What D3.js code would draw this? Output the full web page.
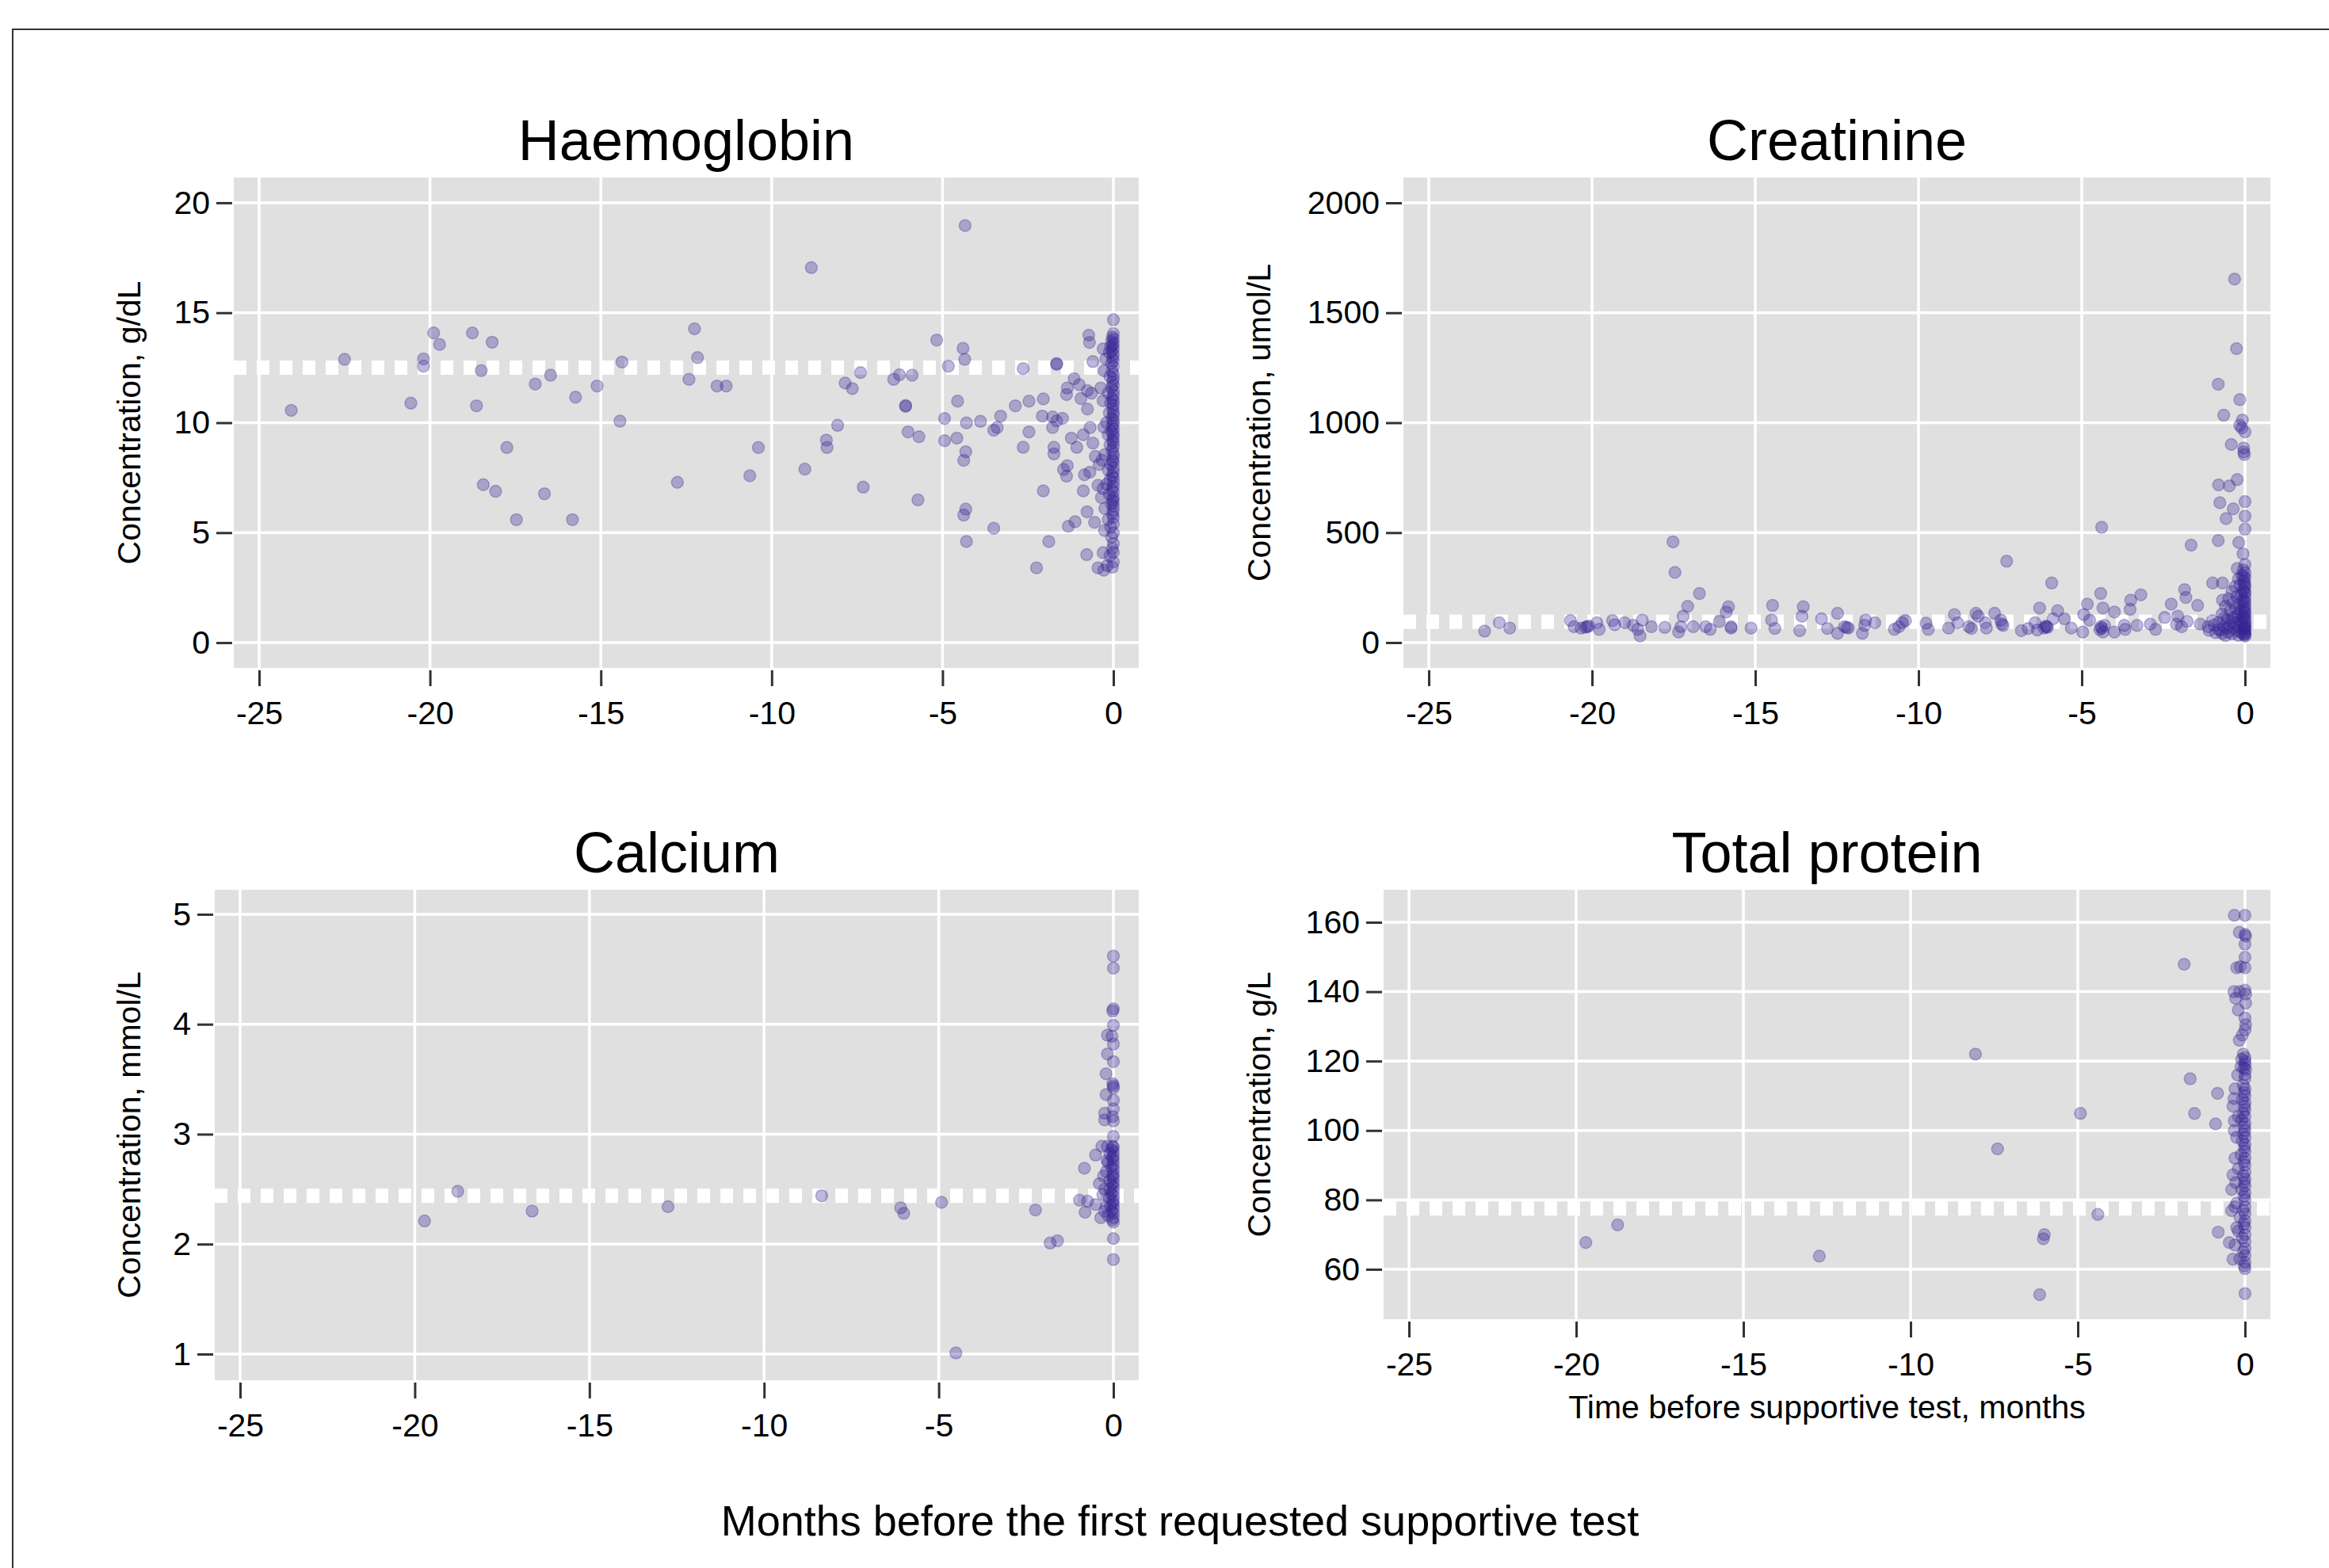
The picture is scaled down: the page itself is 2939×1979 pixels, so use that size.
<!DOCTYPE html>
<html><head><meta charset="utf-8">
<script src="https://cdn.jsdelivr.net/npm/d3@7"></script>
<style>
body{margin:0;background:#fff}
svg{display:block}
text{font-family:"Liberation Sans",Arial,sans-serif;fill:#000}
</style>
</head><body>
<svg id="c" width="2939" height="1979"></svg>
<script>
// ---------------- DATA (months before test, concentration) ----------------
const xTickValues = [-25, -20, -15, -10, -5, 0];
const hbTicks = [0, 5, 10, 15, 20];
const crTicks = [0, 500, 1000, 1500, 2000];
const caTicks = [1, 2, 3, 4, 5];
const tpTicks = [60, 80, 100, 120, 140, 160];

const panelTitles = ["Haemoglobin", "Creatinine", "Calcium", "Total protein"];
const yAxisTitles = ["Concentration, g/dL", "Concentration, umol/L", "Concentration, mmol/L", "Concentration, g/L"];
const refValues = [12.5, 95, 2.44, 77.5];
const xAxisTitle = "Time before supportive test, months";
const overallTitle = "Months before the first requested supportive test";

const haemoglobin = [
[-24.06,10.56],[-22.5,12.88],[-20.56,10.89],[-20.19,12.9],[-20.19,12.57],[-19.89,14.08],[-19.72,13.56],[-18.76,14.08],[-18.18,13.66],[-18.5,12.37],[-18.64,10.77],[-17.75,8.87],[-18.44,7.18],[-18.08,6.88],[-17.47,5.59],[-16.65,6.77],[-16.92,11.76],[-16.47,12.16],[-15.74,11.16],[-15.83,5.59],[-15.11,11.67],[-14.38,12.76],[-14.44,10.07],[-12.76,7.29],[-12.26,14.27],[-12.17,12.96],[-12.42,11.97],[-11.6,11.67],[-11.33,11.67],[-10.39,8.87],[-10.64,7.59],[-9.03,7.89],[-8.84,17.05],[-8.07,9.88],[-8.4,9.21],[-8.38,8.87],[-7.85,11.8],[-7.64,11.55],[-7.4,12.28],[-7.32,7.07],[-6.43,11.97],[-6.26,12.18],[-5.89,12.16],[-6.08,10.78],[-6.08,10.74],[-6.01,9.58],[-5.69,9.36],[-5.72,6.49],[-5.17,13.76],[-4.83,12.57],[-4.94,10.19],[-4.94,9.18],[-4.58,9.3],[-4.56,10.98],[-4.34,18.96],
[-4.4,13.38],[-4.35,12.88],[-4.3,9.99],[-4.32,8.68],[-4.38,8.29],[-4.32,6.07],[-4.38,5.8],[-4.3,4.6],
[-3.89,10.06],[-3.5,9.66],[-3.4,9.78],[-3.3,10.3],[-3.5,5.2],
[-2.87,10.77],[-2.64,12.46],[-2.64,8.88],[-2.47,10.98],[-2.47,9.58],[-2.25,3.4],[-2.08,10.3],[-2.05,11.08],[-2.05,6.9],
[-1.89,4.6],[-1.78,10.26],[-1.78,9.78],[-1.74,8.88],[-1.74,8.58],[-1.66,12.69],[-1.66,12.65],[-1.66,10.08],[-1.49,10.2],[-1.46,7.87],[-1.37,11.28],[-1.37,7.57],[-1.35,11.58],[-1.35,8.05],[-1.32,5.29],[-1.23,9.3],[-1.15,12.0],[-1.12,5.5],[-1.07,8.88],[-1.0,11.73],[-0.95,11.1],[-0.88,9.45],[-0.88,6.9],[-0.85,7.63],[-0.78,4.0],[-0.77,5.95],[-0.76,11.46],[-0.76,10.62],[-0.72,13.98],[-0.7,13.65],[-0.69,7.75],[-0.68,9.78],[-0.64,11.34],[-0.6,12.78],[-0.6,9.07],[-0.55,5.47],[-0.53,8.47],[-0.45,7.15],[-0.45,3.4],[-0.42,8.1],[-0.37,11.58],[-0.3,13.36],[-0.3,4.09],[-0.28,3.29],[-0.27,12.36],[-0.26,5.1],
[0,14.68],[0,14.05],[-0.03,13.9],[0,13.8],[-0.05,13.7],[0,13.6],[-0.02,13.5],[-0.08,13.45],[0,13.35],[-0.04,13.25],[-0.12,13.2],[0,13.1],[-0.02,12.95],[0,12.8],[-0.06,12.7],[0,12.55],[-0.03,12.35],[0,12.2],[-0.1,12.1],[0,12.0],[-0.02,11.85],[0,11.7],[-0.05,11.6],[0,11.45],[-0.15,11.35],[0,11.25],[-0.03,11.1],[0,11.0],[-0.08,10.9],[0,10.8],[-0.02,10.65],[0,10.5],[-0.12,10.45],[0,10.35],[-0.04,10.2],[0,10.1],[-0.2,10.0],[0,9.95],[-0.03,9.85],[0,9.7],[-0.06,9.6],[0,9.5],[-0.15,9.45],[0,9.35],[-0.02,9.2],[0,9.1],[-0.1,9.0],[0,8.9],[-0.04,8.75],[0,8.6],[-0.25,8.55],[0,8.45],[-0.02,8.3],[0,8.2],[-0.08,8.1],[0,7.95],[-0.15,7.85],[0,7.75],[-0.03,7.6],[0,7.5],[-0.1,7.4],[0,7.3],[-0.2,7.2],[0,7.1],[-0.04,6.95],[0,6.85],[-0.12,6.75],[0,6.6],[-0.02,6.5],[0,6.4],[-0.06,6.3],[0,6.2],[-0.25,6.1],[0,6.0],[-0.03,5.85],[0,5.7],[-0.15,5.6],[0,5.4],[-0.08,5.25],[0,4.99],[-0.05,4.8],[0,4.5],[-0.03,4.27],[0,4.1],[-0.1,3.95],[0,3.67],[-0.03,3.43],[-0.18,3.5],[-0.22,12.9],[-0.3,11.0],[-0.28,9.8],[-0.33,8.3],[-0.3,7.0],[-0.35,6.6]
];

const creatinine = [
[-23.29,52],[-22.84,90],[-22.52,66],[-20.66,100],[-20.55,72],[-20.34,66],[-20.2,69],[-20.15,72],[-20.1,75],[-19.85,90],[-19.78,60],[-19.37,100],[-19.3,81],[-19.0,90],[-18.74,78],[-18.6,60],[-18.53,30],[-18.46,102],[-18.18,72],[-17.77,69],[-17.52,458],[-17.46,319],[-17.35,48],[-17.28,72],[-17.21,120],[-17.07,165],[-16.9,72],[-16.71,223],[-16.52,72],[-16.38,60],[-16.1,96],[-15.89,139],[-15.82,163],[-15.74,72],[-15.74,66],[-15.13,66],[-14.47,169],[-14.5,102],[-14.4,64],[-13.64,54],[-13.57,120],[-13.53,163],[-12.97,108],[-12.79,64],[-12.48,133],[-12.48,42],[-12.27,72],[-12.2,69],[-12.15,66],[-11.72,42],[-11.65,78],[-11.62,102],[-11.34,90],[-10.74,60],[-10.6,72],[-10.5,90],[-10.4,100],[-9.77,88],[-9.7,60],[-9.08,66],[-8.9,127],[-8.8,90],[-8.46,72],[-8.38,64],[-8.24,133],[-8.17,120],[-7.96,90],[-7.92,66],[-7.67,133],[-7.48,102],[-7.45,85],[-7.41,78],[-7.3,370],[-6.85,54],[-6.64,64],[-6.43,90],[-6.36,57],[-6.29,157],[-6.15,66],[-6.1,75],[-6.08,72],[-6.05,69],[-5.92,271],[-5.88,108],[-5.74,145],[-5.53,108],[-5.32,66],[-4.97,48],[-4.94,127],[-4.83,175],[-4.76,102],[-4.45,60],[-4.42,223],[-4.39,524],[-4.35,157],[-4.42,72],[-4.38,66],[-4.35,48],[-4.3,78],[-4.0,139],[-4.0,48],
[-3.7,78],[-3.67,60],[-3.31,78],[-3.19,217],[-3.5,193],[-3.52,151],[-2.9,84],[-2.74,60],[-2.46,114],[-2.26,175],[-2.1,84],[-2.06,120],[-1.94,72],[-1.85,241],[-1.81,205],[-1.77,96],[-1.65,443],[-1.45,169],[-1.37,84],[-1.13,72],[-0.99,271],[-0.82,464],[-0.81,60],[-0.69,271],[-0.69,193],
[-0.32,1653],[-0.26,1337],[-0.82,1175],[-0.16,1105],[-0.65,1034],[-0.08,1012],[-0.16,988],[-0.1,976],[0,958],[-0.42,901],[-0.04,885],[-0.04,867],[-0.02,855],[-0.24,741],[-0.81,717],[-0.48,713],[-0.77,636],[0,641],[-0.36,608],[-0.58,564],[0,575],[0,516],[-0.19,455],[-0.06,404],[0,355],[-0.24,337],
[-0.05,330],[0,318],[-0.1,305],[0,295],[-0.2,290],[-0.03,280],[0,268],[-0.15,262],[-0.3,255],[0,250],[-0.05,238],[-0.4,232],[0,225],[-0.12,218],[-0.25,210],[0,205],[-0.5,200],[-0.08,195],[0,186],[-0.35,180],[-0.18,175],[0,168],[-0.6,165],[-0.04,160],[-0.28,155],[0,150],[-0.45,146],[-0.12,142],[0,135],[-0.7,130],[-0.22,128],[0,122],[-0.05,116],[-0.38,112],[0,108],[-0.55,104],[-0.15,100],[0,96],[-0.8,92],[-0.28,90],[0,86],[-0.1,82],[-0.45,80],[0,76],[-0.65,74],[-0.2,72],[0,68],[-0.35,66],[-0.05,62],[0,58],[-0.75,56],[-0.25,54],[0,50],[-0.5,48],[-0.12,45],[0,42],[-0.4,40],[-0.03,38],[0,35],[-0.2,33],[-0.6,32],[-0.9,45],[-1.0,100],[-1.1,55],[-0.95,80],[0,30],[-0.02,70],[-0.06,110],[-0.02,140],[-0.03,190],[-0.01,230],[-0.02,260],[-0.04,300],[-0.3,120],[-0.4,95],[-0.55,65],[-0.65,110],[-0.7,42]
];

const calcium = [
[-19.72,2.21],[-18.77,2.48],[-16.64,2.30],[-12.75,2.34],[-8.35,2.44],[-6.09,2.33],[-6.0,2.28],[-4.92,2.38],[-4.51,1.01],[-2.23,2.31],[-1.81,2.01],[-1.6,2.03],[-0.83,2.69],[-0.51,2.81],[-0.97,2.4],[-0.74,2.39],[-0.81,2.29],[-0.51,2.36],[-0.4,2.55],[-0.36,2.24],
[0,4.62],[0,4.51],[0,4.14],[-0.02,4.12],[0,3.99],[-0.17,3.9],[-0.04,3.89],[0,3.82],[-0.17,3.73],[0,3.66],[-0.21,3.55],[-0.02,3.46],[0,3.44],[0,3.42],[-0.21,3.36],[0,3.31],[0,3.23],[-0.25,3.19],[-0.02,3.16],[-0.25,3.13],[0,3.12],[0,2.98],[-0.33,2.89],[-0.17,2.89],[-0.02,2.89],
[0,2.88],[-0.05,2.86],[0,2.84],[-0.1,2.82],[0,2.8],[-0.03,2.78],[0,2.76],[-0.15,2.74],[0,2.72],[-0.05,2.7],[0,2.68],[-0.2,2.66],[0,2.64],[-0.02,2.62],[0,2.6],[-0.1,2.58],[0,2.56],[-0.04,2.54],[0,2.52],[-0.25,2.5],[0,2.48],[-0.06,2.46],[0,2.44],[-0.12,2.42],[0,2.4],[-0.02,2.38],[0,2.36],[-0.2,2.34],[0,2.32],[-0.05,2.3],[0,2.28],[-0.15,2.26],[0,2.24],[-0.03,2.22],[0,2.2],[-0.3,2.45],[-0.28,2.62],[-0.25,2.3],[-0.1,2.5],[-0.08,2.35],[-0.18,2.76],[0,2.05],[0,1.86]
];

const totalProtein = [
[-19.71,67.7],[-18.76,72.8],[-12.73,63.8],[-8.06,122.0],[-7.4,94.7],[-6.03,68.8],[-6.0,70.0],[-6.14,52.7],[-4.92,104.9],[-4.4,75.8],[-1.82,147.9],[-1.64,114.9],[-1.51,104.9],[-0.82,110.7],[-0.88,101.9],[-0.8,70.7],[-0.47,67.7],[-0.36,62.9],[-0.36,87.2],[-0.4,83],[-0.4,76.9],
[-0.32,162],[0,162],[-0.17,157.1],[0,156.5],[0.02,156],[0,153.7],[0,149.9],[-0.25,146.9],[-0.14,147.2],[0,146.9],[-0.33,140],[-0.16,140],[0,140.4],[0.02,139.3],[-0.28,138.1],[0.02,136.7],[-0.2,134.7],[0,132.4],[0.02,130.5],[0,129],[-0.08,127.5],[-0.17,126],[0,119.9],[-0.12,118.4],[0.02,117.6],[0,116.1],[-0.33,109.2],[-0.36,107],[-0.32,102.8],[-0.32,100],[0,53],[0,60.2],
[-0.05,122],[0,121],[-0.1,120.5],[0,119],[-0.03,118],[0,115],[-0.05,113],[0,112],[-0.02,111],[0,110],[-0.08,109],[0,108],[-0.02,107],[0,106],[-0.05,105],[0,104],[-0.1,103],[0,102],[-0.02,101],[0,100],[-0.04,99],[0,98],[-0.08,97],[0,96],[-0.02,95],[0,94],[-0.12,93],[0,92],[-0.03,91],[0,90],[-0.2,89],[0,88],[-0.05,87],[0,86],[-0.02,85],[0,84],[-0.1,83],[0,82],[-0.03,81],[0,80],[-0.25,79],[0,78],[-0.05,77],[0,76],[-0.15,75],[0,74],[-0.03,73],[0,72],[-0.2,71],[0,70],[-0.08,69],[0,68],[-0.3,67],[0,66],[-0.05,65],[0,64],[-0.15,63],[0,62],[-0.02,61],[-0.25,72],[-0.3,78],[-0.28,85],[-0.3,92],[-0.25,98],[-0.2,104],[-0.3,112],[-0.22,116]
];

// ---------------- LAYOUT ----------------
const W = 2939, H = 1979;
const FONT = '"Liberation Sans", Arial, sans-serif';
const MARK = 'rgb(55,38,150)';

const panels = [
  {data: haemoglobin, ticks: hbTicks, yDomain: [-1.15, 21.15], left: 295, right: 1437, top: 224, bottom: 843, labelX: 177},
  {data: creatinine, ticks: crTicks, yDomain: [-115.3, 2115.3], left: 1771, right: 2865, top: 224, bottom: 843, labelX: 1603},
  {data: calcium, ticks: caTicks, yDomain: [0.762, 5.223], left: 271, right: 1437, top: 1123, bottom: 1742, labelX: 177},
  {data: totalProtein, ticks: tpTicks, yDomain: [45.62, 169.36], left: 1746, right: 2865, top: 1123, bottom: 1665, labelX: 1603}
];

const svg = d3.select('#c');
svg.append('rect').attr('width', W).attr('height', H).attr('fill', '#fff');
svg.append('path').attr('d', 'M16,' + H + ' V37 H' + W)
  .attr('fill', 'none').attr('stroke', '#333').attr('stroke-width', 2);

panels.forEach((p, i) => {
  const x = d3.scaleLinear().domain([-25, 0]).range([p.left + 32, p.right - 32]);
  const y = d3.scaleLinear().domain(p.yDomain).range([p.bottom, p.top]);
  const g = svg.append('g');

  g.append('rect').attr('x', p.left).attr('y', p.top)
    .attr('width', p.right - p.left).attr('height', p.bottom - p.top).attr('fill', '#e0e0e0');

  g.selectAll('line.gy').data(p.ticks).join('line').attr('class', 'gy')
    .attr('x1', p.left).attr('x2', p.right).attr('y1', d => y(d)).attr('y2', d => y(d))
    .attr('stroke', '#fff').attr('stroke-width', 3.5);
  g.selectAll('line.gx').data(xTickValues).join('line').attr('class', 'gx')
    .attr('y1', p.top).attr('y2', p.bottom).attr('x1', d => x(d)).attr('x2', d => x(d))
    .attr('stroke', '#fff').attr('stroke-width', 3.5);

  g.append('line').attr('x1', p.left).attr('x2', p.right)
    .attr('y1', y(refValues[i])).attr('y2', y(refValues[i]))
    .attr('stroke', '#fff').attr('stroke-width', 18).attr('stroke-dasharray', '16,13');

  g.selectAll('circle').data(p.data).join('circle')
    .attr('cx', d => x(d[0])).attr('cy', d => y(d[1])).attr('r', 7.5)
    .attr('fill', MARK).attr('fill-opacity', 0.33)
    .attr('stroke', MARK).attr('stroke-opacity', 0.3).attr('stroke-width', 1.5);

  const ay = g.append('g').attr('transform', 'translate(' + (p.left - 2) + ',0)')
    .call(d3.axisLeft(y).tickValues(p.ticks).tickSize(20).tickPadding(8).tickFormat(d => String(d)));
  const ax = g.append('g').attr('transform', 'translate(0,' + (p.bottom + 3) + ')')
    .call(d3.axisBottom(x).tickValues(xTickValues).tickSize(20).tickPadding(19).tickFormat(d => String(d)));
  [ay, ax].forEach(a => {
    a.select('.domain').remove();
    a.attr('font-family', FONT).attr('font-size', 41);
    a.selectAll('.tick line').attr('stroke', '#333').attr('stroke-width', 3);
    a.selectAll('.tick text').attr('fill', '#000');
  });

  g.append('text').attr('x', (p.left + p.right) / 2).attr('y', p.top - 22)
    .attr('text-anchor', 'middle').attr('font-size', 72).text(panelTitles[i]);

  g.append('text')
    .attr('transform', 'translate(' + p.labelX + ',' + ((p.top + p.bottom) / 2) + ') rotate(-90)')
    .attr('text-anchor', 'middle').attr('font-size', 41).text(yAxisTitles[i]);

  if (i === 3) {
    g.append('text').attr('x', (p.left + p.right) / 2).attr('y', 1790)
      .attr('text-anchor', 'middle').attr('font-size', 41).text(xAxisTitle);
  }
});

svg.append('text').attr('x', 1489).attr('y', 1938).attr('text-anchor', 'middle')
  .attr('font-size', 54).text(overallTitle);
</script>
</body></html>
